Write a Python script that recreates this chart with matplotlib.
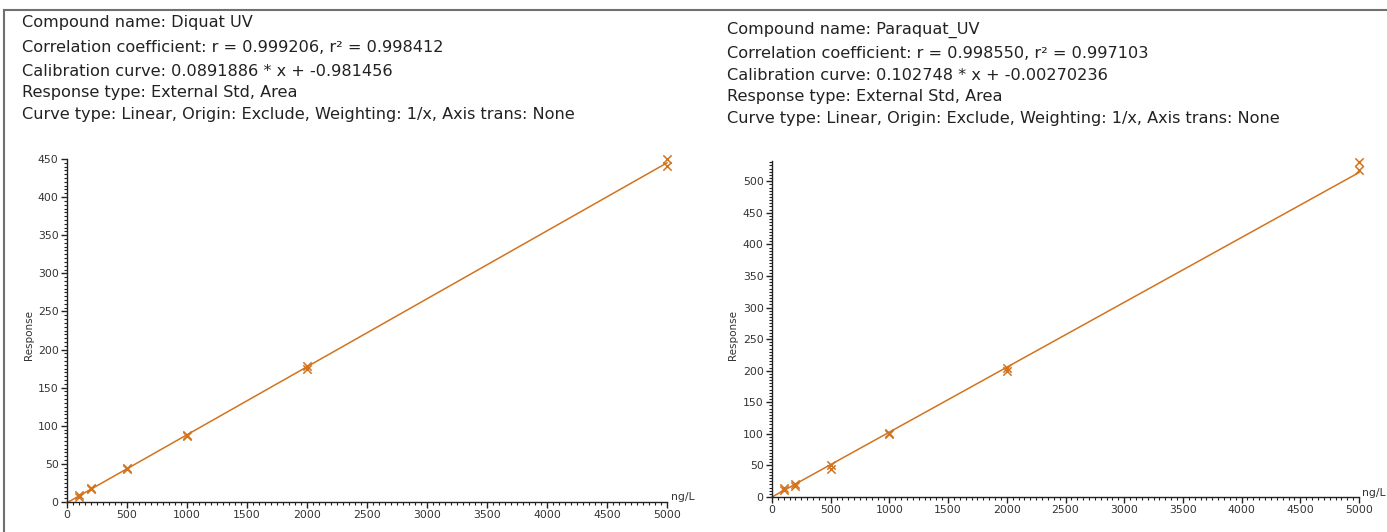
import matplotlib
matplotlib.use("Agg")
import matplotlib.pyplot as plt
from matplotlib.lines import Line2D
from matplotlib.ticker import MultipleLocator

# Calibration standards (ng/L) and measured responses
diquat_conc = [100, 100, 200, 200, 500, 500, 1000, 1000, 2000, 2000, 5000, 5000]
diquat_resp = [7, 9, 17, 19, 43, 45, 86, 88, 175, 179, 441, 450]
diquat_slope = 0.0891886
diquat_icpt = -0.981456

paraquat_conc = [100, 100, 200, 200, 500, 500, 1000, 1000, 2000, 2000, 5000, 5000]
paraquat_resp = [11, 14, 18, 20, 44, 51, 99, 101, 200, 205, 517, 531]
paraquat_slope = 0.102748
paraquat_icpt = -0.00270236

diquat_info = [
    "Compound name: Diquat UV",
    "Correlation coefficient: r = 0.999206, r\u00b2 = 0.998412",
    "Calibration curve: 0.0891886 * x + -0.981456",
    "Response type: External Std, Area",
    "Curve type: Linear, Origin: Exclude, Weighting: 1/x, Axis trans: None",
]
paraquat_info = [
    "Compound name: Paraquat_UV",
    "Correlation coefficient: r = 0.998550, r\u00b2 = 0.997103",
    "Calibration curve: 0.102748 * x + -0.00270236",
    "Response type: External Std, Area",
    "Curve type: Linear, Origin: Exclude, Weighting: 1/x, Axis trans: None",
]

x_ticks = list(range(0, 5001, 500))
W, H = 1387, 532
ORANGE = "#d2731e"
TXT = "#222222"

fig = plt.figure(figsize=(W / 100, H / 100), dpi=100)
fig.patch.set_facecolor("white")

# panel frame (left and top edges)
fig.add_artist(Line2D([4 / W, 4 / W], [0, 1 - 10 / H], transform=fig.transFigure,
                      color="#707070", lw=1.5))
fig.add_artist(Line2D([4 / W, 1], [1 - 10 / H, 1 - 10 / H], transform=fig.transFigure,
                      color="#707070", lw=1.5))


def draw_panel(rect, conc, resp, slope, icpt, ymax, info, text_x, text_ys, ylab_x, unit_x, unit_y):
    ax = fig.add_axes(rect)
    for spine in ("top", "right"):
        ax.spines[spine].set_visible(False)
    for spine in ("left", "bottom"):
        ax.spines[spine].set_color("#222222")
        ax.spines[spine].set_linewidth(1.0)
    ax.set_xlim(0, 5000)
    ax.set_ylim(0, ymax)
    ax.set_xticks(x_ticks)
    ax.xaxis.set_minor_locator(MultipleLocator(50))
    ax.yaxis.set_major_locator(MultipleLocator(50))
    ax.yaxis.set_minor_locator(MultipleLocator(5))
    ax.tick_params(which="major", length=4, width=1.0, labelsize=7.8,
                   labelcolor="#333333", color="#222222", pad=2)
    ax.tick_params(which="minor", length=2.5, width=0.8, color="#222222")

    xs = [0, 5000]
    ax.plot(xs, [slope * x + icpt for x in xs], color=ORANGE, lw=1.1, clip_on=False)
    ax.scatter(conc, resp, marker="x", s=36, color=ORANGE, linewidths=1.1,
               clip_on=False, zorder=3)

    fig.text(ylab_x / W, 1 - 335 / H, "Response", rotation=90, fontsize=7.5,
             color="#333333", ha="center", va="center")
    fig.text(unit_x / W, 1 - unit_y / H, "ng/L", fontsize=7.8, color="#333333",
             ha="left", va="center")
    for line, y in zip(info, text_ys):
        fig.text(text_x / W, 1 - y / H, line, fontsize=11.6, color=TXT,
                 ha="left", va="center")
    return ax


draw_panel([67 / W, 1 - 502 / H, 600 / W, 343 / H],
           diquat_conc, diquat_resp, diquat_slope, diquat_icpt, 450,
           diquat_info, 22, [22, 47, 71, 93, 115], 29, 671, 497)

draw_panel([772 / W, 1 - 497 / H, 587 / W, 336 / H],
           paraquat_conc, paraquat_resp, paraquat_slope, paraquat_icpt, 532,
           paraquat_info, 727, [30, 53, 75, 97, 119], 733, 1362, 493)

fig.savefig("out.png", dpi=100, facecolor="white")
